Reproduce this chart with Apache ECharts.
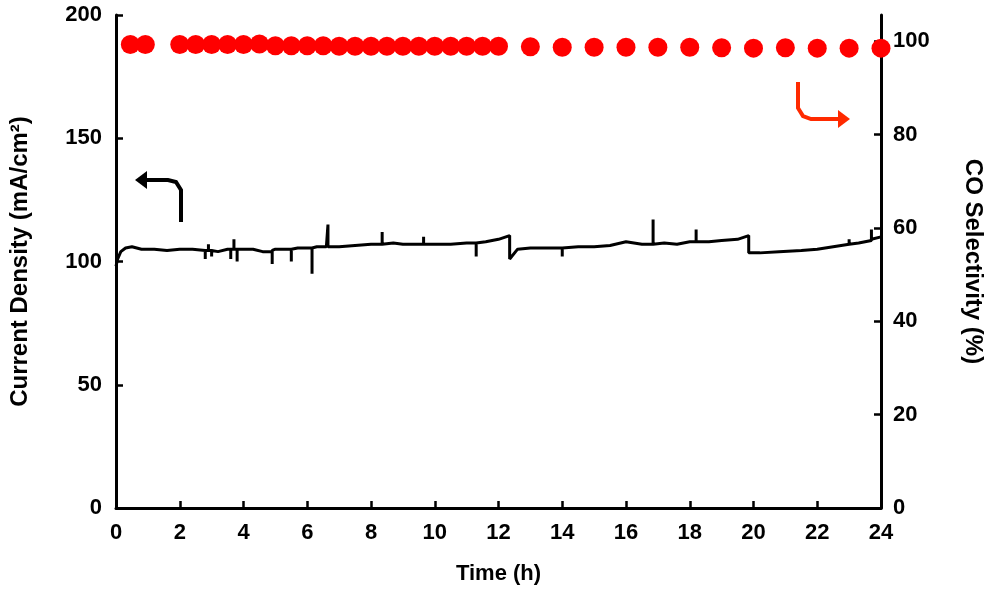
<!DOCTYPE html>
<html><head><meta charset="utf-8">
<script src="https://cdn.jsdelivr.net/npm/echarts@6/dist/echarts.min.js"></script>
<style>html,body{margin:0;padding:0;background:#fff}#c{width:993px;height:612px}</style>
</head><body><div id="c"></div>
<script>
var densityTime = [0,0.05,0.15,0.3,0.5,0.8,1.2,1.6,2.0,2.4,2.8,2.8,2.8,2.9,2.9,2.9,3.0,3.0,3.0,3.2,3.5,3.6,3.6,3.6,3.7,3.7,3.7,3.8,3.8,3.8,4.0,4.3,4.6,4.9,4.9,4.9,5.0,5.3,5.5,5.5,5.5,5.7,6.0,6.15,6.15,6.15,6.3,6.6,6.65,6.65,6.65,7.0,7.5,8.0,8.35,8.35,8.35,8.7,9.0,9.3,9.65,9.65,9.65,10.0,10.5,11.0,11.3,11.3,11.3,11.6,12.0,12.35,12.35,12.6,13.0,13.5,14.0,14.0,14.0,14.5,15.0,15.5,16.0,16.5,16.85,16.85,16.85,17.2,17.6,18.0,18.2,18.2,18.2,18.6,19.0,19.5,19.85,19.85,20.2,20.8,21.5,22.0,22.5,23.0,23.0,23.0,23.3,23.7,23.7,23.7,24.0];
var densityVal  = [98,101,104,105.5,106,105,105,104.5,105,105,104.5,101,104.5,104.5,107,104.5,104.5,102,104.5,104,105,105,101,105,105,109,105,105,100,105,105,105,104,104,99,104.5,105,105,105,100,105,105.5,105.5,105.5,95,105.5,106,106,106,115,106,106,106.5,107,107,112,107,107.5,107,107,107,110,107,107,107,107.5,107.5,102,107.5,108,109,110.5,101,105,105.5,105.5,105.5,102,105.5,106,106,106.5,108,107,107,117,107,107.5,107,108,108,113,108,108,108.5,109,110.5,103.5,103.5,104,104.5,105,106,107,109,107,107.5,108.5,113,109,110];
var selTime = [0.45,0.92,2,2.5,3,3.5,4,4.5,5,5.5,6,6.5,7,7.5,8,8.5,9,9.5,10,10.5,11,11.5,12,13,14,15,16,17,18,19,20,21,22,23,24];
var selVal  = [99.3,99.3,99.3,99.3,99.3,99.3,99.3,99.4,99,99,99,99,98.9,98.9,98.9,98.9,98.9,98.9,98.9,98.9,98.9,98.9,98.9,98.8,98.7,98.7,98.7,98.7,98.7,98.6,98.5,98.6,98.5,98.5,98.5];
var xTicks = [0,2,4,6,8,10,12,14,16,18,20,22,24];

var font = 'Liberation Sans';
var chart = echarts.init(document.getElementById('c'));
var lab = {fontFamily:font,fontWeight:'bold',fontSize:22,color:'#000'};
var axLine = {show:true,lineStyle:{color:'#000',width:3}};
var tick = {show:true,inside:true,length:7,lineStyle:{color:'#000',width:2.5}};
chart.setOption({
  animation:false,
  grid:{left:116,right:110,top:15,bottom:104,containLabel:false},
  xAxis:{type:'value',min:0,max:24,interval:2,
    name:'Time (h)',nameLocation:'middle',nameGap:55,
    nameTextStyle:{fontFamily:font,fontWeight:'bold',fontSize:22,color:'#000'},
    axisLine:axLine,axisTick:tick,
    axisLabel:Object.assign({margin:14},lab),splitLine:{show:false}},
  yAxis:[{type:'value',min:0,max:200,interval:50,
    name:'Current Density (mA/cm²)',nameLocation:'middle',nameGap:84,
    nameTextStyle:{fontFamily:font,fontWeight:'bold',fontSize:24,color:'#000'},
    axisLine:axLine,axisTick:tick,
    axisLabel:Object.assign({margin:14},lab),splitLine:{show:false}},
   {type:'value',min:0,max:105.6,interval:20,position:'right',
    name:'CO Selectivity (%)',nameLocation:'middle',nameGap:80,nameRotate:-90,
    nameTextStyle:{fontFamily:font,fontWeight:'bold',fontSize:24,color:'#000'},
    axisLine:axLine,axisTick:tick,
    axisLabel:Object.assign({margin:12,showMaxLabel:false},lab),splitLine:{show:false}}],
  series:[
    {type:'line',yAxisIndex:0,showSymbol:false,lineStyle:{color:'#000',width:3},
     data:densityTime.map(function(t,i){return [t,densityVal[i]];})},
    {type:'scatter',yAxisIndex:1,symbolSize:19,itemStyle:{color:'#ff0000',opacity:1},
     data:selTime.map(function(t,i){return [t,selVal[i]];})}
  ],
  graphic:[
    {type:'polyline',shape:{points:[[181,222],[181,190],[176,182],[168,180],[145,180]]},style:{stroke:'#000',lineWidth:4,fill:null}},
    {type:'polygon',shape:{points:[[135,180],[147,171],[147,189]]},style:{fill:'#000'}},
    {type:'polyline',shape:{points:[[798,82],[798,108],[803,116],[811,119],[838,119]]},style:{stroke:'#ff2a00',lineWidth:4,fill:null}},
    {type:'polygon',shape:{points:[[850,119],[838,110],[838,128]]},style:{fill:'#ff2a00'}}
  ]
});
</script></body></html>
